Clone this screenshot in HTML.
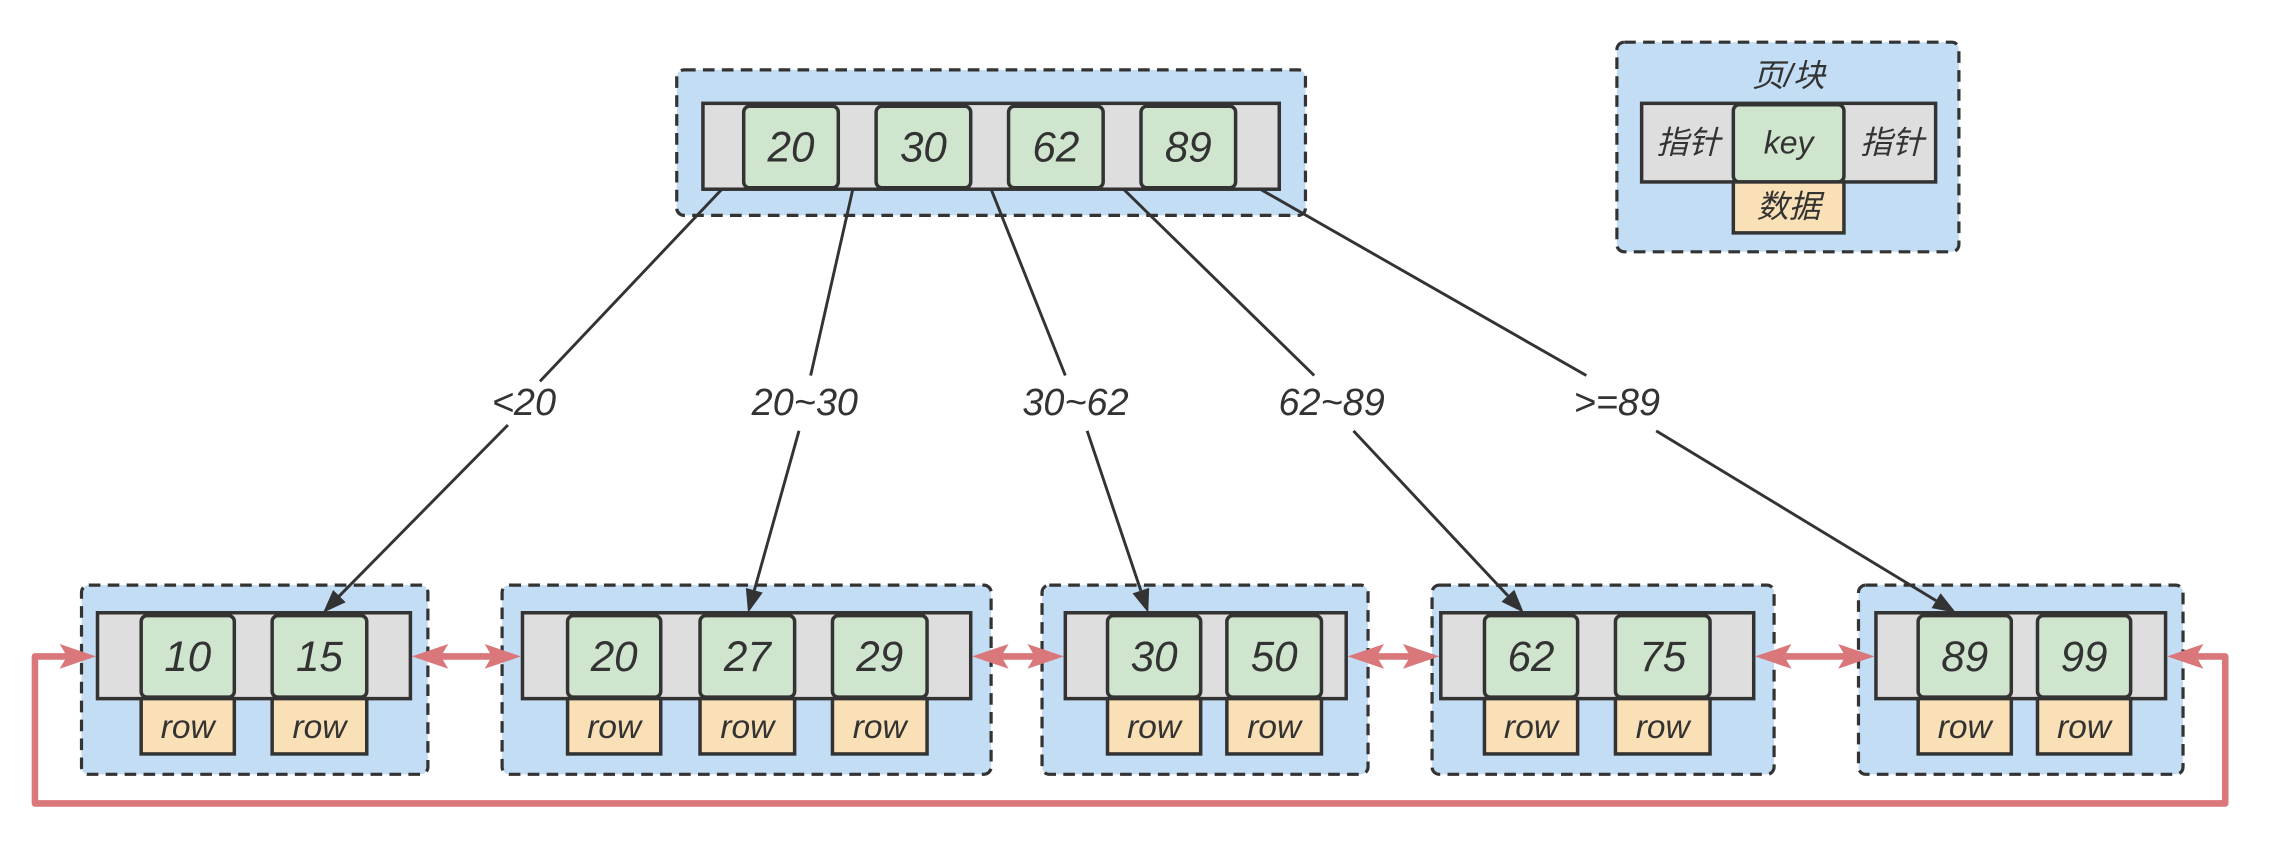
<!DOCTYPE html>
<html><head><meta charset="utf-8"><style>
html,body{margin:0;padding:0;background:#fff}
svg{display:block}
text{font-family:"Liberation Sans","Noto Sans CJK SC",sans-serif;font-style:italic;fill:#333;text-anchor:middle;dominant-baseline:central}
</style></head><body>
<svg width="2282" height="842" viewBox="0 0 1568 578.5" preserveAspectRatio="none" xmlns="http://www.w3.org/2000/svg">
<g stroke="#333" stroke-width="2.2" stroke-dasharray="8,5" fill="#c3ddf5">
<rect x="465" y="48" width="432" height="100" rx="5"/>
<rect x="1111" y="29" width="235" height="144" rx="5"/>
<rect x="56" y="402" width="238" height="130" rx="5"/>
<rect x="345" y="402" width="336" height="130" rx="5"/>
<rect x="716" y="402" width="224" height="130" rx="5"/>
<rect x="984" y="402" width="235" height="130" rx="5"/>
<rect x="1277" y="402" width="223" height="130" rx="5"/>
</g>
<g stroke="#333" stroke-width="2.4">
<rect x="483" y="71" width="396" height="59" fill="#dedede"/>
<rect x="1128" y="71" width="202" height="54" fill="#dedede"/>
<rect x="67" y="421" width="215" height="59" fill="#dedede"/>
<rect x="359" y="421" width="308" height="59" fill="#dedede"/>
<rect x="732" y="421" width="193" height="59" fill="#dedede"/>
<rect x="990" y="421" width="215" height="59" fill="#dedede"/>
<rect x="1289" y="421" width="199" height="59" fill="#dedede"/>
<g fill="#d0e5cd">
<rect x="511" y="73" width="65" height="56" rx="4"/>
<rect x="602" y="73" width="65" height="56" rx="4"/>
<rect x="693" y="73" width="65" height="56" rx="4"/>
<rect x="784" y="73" width="65" height="56" rx="4"/>
<rect x="1191" y="72" width="76" height="53" rx="4"/>
<rect x="97" y="423" width="64" height="56" rx="4"/>
<rect x="187" y="423" width="65" height="56" rx="4"/>
<rect x="390" y="423" width="64" height="56" rx="4"/>
<rect x="481" y="423" width="65" height="56" rx="4"/>
<rect x="572" y="423" width="65" height="56" rx="4"/>
<rect x="761" y="423" width="64" height="56" rx="4"/>
<rect x="843" y="423" width="65" height="56" rx="4"/>
<rect x="1020" y="423" width="64" height="56" rx="4"/>
<rect x="1110" y="423" width="65" height="56" rx="4"/>
<rect x="1318" y="423" width="64" height="56" rx="4"/>
<rect x="1400" y="423" width="64" height="56" rx="4"/>
</g>
<g fill="#fae0b6">
<rect x="1191" y="125" width="76" height="35"/>
<rect x="97" y="480" width="64" height="38"/>
<rect x="187" y="480" width="65" height="38"/>
<rect x="390" y="480" width="64" height="38"/>
<rect x="481" y="480" width="65" height="38"/>
<rect x="572" y="480" width="65" height="38"/>
<rect x="761" y="480" width="64" height="38"/>
<rect x="843" y="480" width="65" height="38"/>
<rect x="1020" y="480" width="64" height="38"/>
<rect x="1110" y="480" width="65" height="38"/>
<rect x="1318" y="480" width="64" height="38"/>
<rect x="1400" y="480" width="64" height="38"/>
</g>
</g>
<g stroke="#333" stroke-width="2" fill="none">
<path d="M496,130 L371,262 M349,292 L233,409.6"/>
<path d="M586,130 L557,258 M549,296 L518.3,405.6"/>
<path d="M681,130 L732,258 M747,296 L783.9,405.8"/>
<path d="M772,130 L903,258 M930,296 L1036.1,409.3"/>
<path d="M866,130 L1090,258 M1138,296 L1330.3,412.7"/>
</g>
<g fill="#333">
<polygon points="222,421 237.5,413.8 228.9,405.4"/>
<polygon points="514,421 524.1,407.2 512.5,404"/>
<polygon points="789,421 789.6,403.9 778.2,407.7"/>
<polygon points="1047,421 1040.5,405.2 1031.7,413.4"/>
<polygon points="1344,421 1333.4,407.6 1327.2,417.8"/>
</g>
<g stroke="#d9777a" stroke-width="4.5" fill="none" stroke-linejoin="round">
<path d="M303,451 L338,451"/>
<path d="M688,451 L711,451"/>
<path d="M946,451 L969,451"/>
<path d="M1226,451 L1268,451"/>
<path d="M46,451 L24,451 L24,552 L1529,552 L1529,451 L1509,451"/>
</g>
<g fill="#d9777a">
<polygon points="283,451 308,442.5 303,451 308,459.5"/><polygon points="358,451 333,442.5 338,451 333,459.5"/>
<polygon points="668,451 693,442.5 688,451 693,459.5"/><polygon points="731,451 706,442.5 711,451 706,459.5"/>
<polygon points="926,451 951,442.5 946,451 951,459.5"/><polygon points="989,451 964,442.5 969,451 964,459.5"/>
<polygon points="1206,451 1231,442.5 1226,451 1231,459.5"/><polygon points="1288,451 1263,442.5 1268,451 1263,459.5"/>
<polygon points="66,451 41,442.5 46,451 41,459.5"/><polygon points="1489,451 1514,442.5 1509,451 1514,459.5"/>
</g>
<g font-size="29">
<text x="543.5" y="101">20</text><text x="634.5" y="101">30</text><text x="725.5" y="101">62</text><text x="816.5" y="101">89</text>
<text x="129" y="451">10</text><text x="219.5" y="451">15</text>
<text x="422" y="451">20</text><text x="513.5" y="451">27</text><text x="604.5" y="451">29</text>
<text x="793" y="451">30</text><text x="875.5" y="451">50</text>
<text x="1052" y="451">62</text><text x="1142.5" y="451">75</text>
<text x="1350" y="451">89</text><text x="1432" y="451">99</text>
</g>
<g font-size="26">
<text x="360" y="277">&lt;20</text><text x="553" y="277">20~30</text><text x="739" y="277">30~62</text><text x="915" y="277">62~89</text><text x="1111" y="277">&gt;=89</text>
</g>
<g font-size="23">
<text x="129" y="500">row</text><text x="219.5" y="500">row</text>
<text x="422" y="500">row</text><text x="513.5" y="500">row</text><text x="604.5" y="500">row</text>
<text x="793" y="500">row</text><text x="875.5" y="500">row</text>
<text x="1052" y="500">row</text><text x="1142.5" y="500">row</text>
<text x="1350" y="500">row</text><text x="1432" y="500">row</text>
</g>
<g font-size="22">
<text x="1229" y="52">页/块</text>
<text x="1160" y="98">指针</text><text x="1229" y="98">key</text><text x="1300" y="98">指针</text>
<text x="1229" y="142">数据</text>
</g>
</svg>
</body></html>
